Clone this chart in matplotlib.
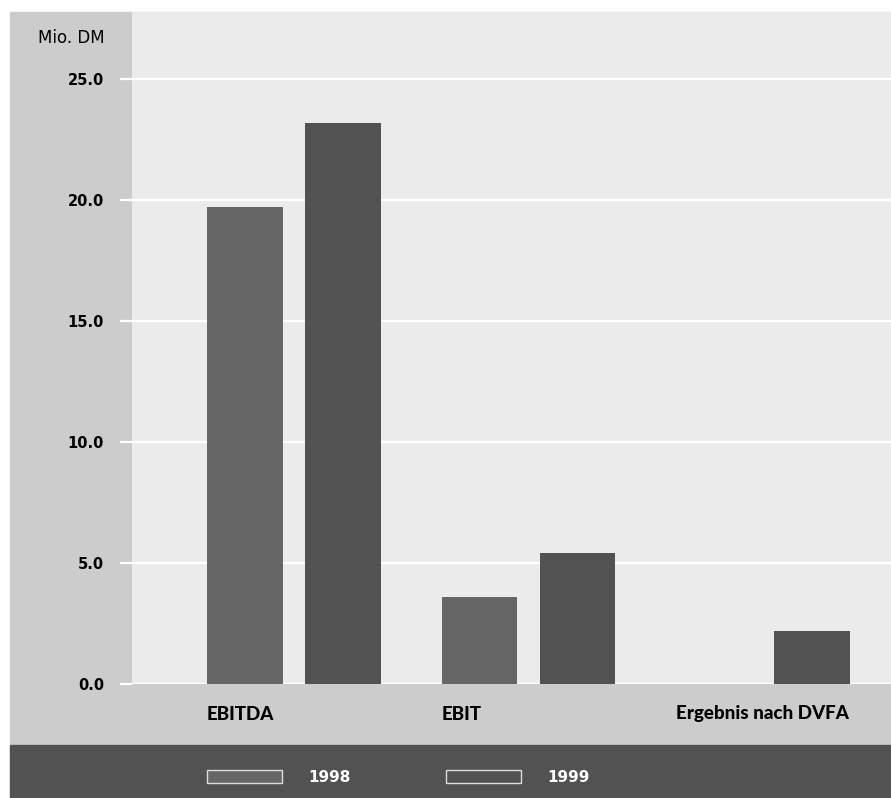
import numpy as np
import matplotlib
matplotlib.use("Agg")
import matplotlib.pyplot as plt
from matplotlib.patches import Patch, Rectangle

categories = ["EBITDA", "EBIT", "Ergebnis nach DVFA"]
years = ["1998", "1999"]
values_1998 = [19.7, 3.6, np.nan]
values_1999 = [23.2, 5.4, 2.2]
yticks = [0, 5, 10, 15, 20, 25]
unit_label = "Mio. DM"

W, H = 891, 798
fig = plt.figure(figsize=(W / 100, H / 100), dpi=100)
fig.patch.set_facecolor("white")


def fx(px):
    return px / W


def fy(py):
    return 1 - py / H


# background panels (left / category band and dark legend band)
fig.patches.append(Rectangle((fx(10), fy(745)), fx(881), fy(12) - fy(745),
                             transform=fig.transFigure, color="#cccccc", zorder=-2))
fig.patches.append(Rectangle((fx(10), 0), fx(881), fy(745),
                             transform=fig.transFigure, color="#525252", zorder=-2))

ax = fig.add_axes([fx(132), fy(684), fx(891 - 132), fy(12) - fy(684)])
ax.set_zorder(1)
ax.set_facecolor("#ebebeb")

x = np.arange(len(categories))
width = 0.324
off = 0.209
b1 = ax.bar(x - off, values_1998, width, color="#666666", zorder=2)
b2 = ax.bar(x + off, values_1999, width, color="#525252", zorder=2)

ax.set_xlim(-0.691, 2.546)
ax.set_ylim(0, 27.77)
ax.set_yticks(yticks)
ax.set_yticklabels([f"{v:.1f}" for v in yticks], fontsize=10.5,
                   fontweight="bold", color="black", family="DejaVu Sans")
ax.set_xticks([])
ax.set_axisbelow(True)
ax.yaxis.grid(True, color="white", linewidth=1.6)
ax.tick_params(axis="y", color="white", length=8.6, width=1.6, pad=11.5)
for s in ax.spines.values():
    s.set_visible(False)

# category labels, left aligned with the first bar of each group
for xi, cat in zip(x, categories):
    ax.text(xi - off - width / 2, -30 / 672, cat, transform=ax.get_xaxis_transform(),
            ha="left", va="center", fontsize=13.5, fontweight=900,
            family=["Lato", "DejaVu Sans"], color="black")

fig.text(fx(105), fy(38), unit_label, ha="right", va="center", fontsize=12,
         color="black", family="DejaVu Sans")

handles = [Patch(facecolor="#666666", edgecolor="#dddddd", linewidth=1),
           Patch(facecolor="#525252", edgecolor="#dddddd", linewidth=1)]
leg = fig.legend(handles, years, loc="center left",
                 bbox_to_anchor=(fx(207), fy(777)), ncol=2, frameon=False,
                 fontsize=11, handlelength=4.9, handleheight=0.98,
                 handletextpad=1.7, columnspacing=6.3, borderpad=0,
                 borderaxespad=0)
for t in leg.get_texts():
    t.set_color("white")
    t.set_fontweight("bold")
    t.set_family("DejaVu Sans")

fig.savefig("out.png", dpi=100)
